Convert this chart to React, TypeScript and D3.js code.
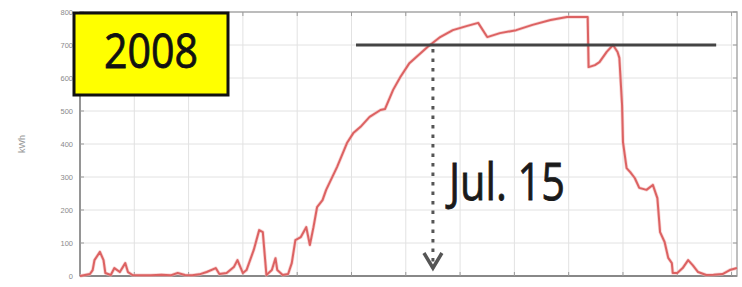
import React from "react";
import * as d3 from "d3";

const days = [0, 5.5, 7, 8, 11, 13, 14, 17, 19, 22, 25, 26.5, 29, 33, 39, 45, 50, 54, 58, 62, 66, 70, 75, 77, 81, 85, 87, 90, 92, 96, 99, 101, 103, 106, 108, 109, 112, 115, 117, 119, 122, 125, 127, 129, 131, 134, 136, 142, 147.5, 151, 155, 160, 166, 168.5, 173, 177, 182, 192, 199, 206, 214, 220, 225, 232, 241, 250, 260, 269, 278, 280.5, 281, 284.5, 287, 291, 294.5, 297, 298, 299.5, 300, 302, 304, 306.5, 309, 313, 316.5, 319, 320.5, 323, 325, 327, 327.5, 330, 333, 336, 338.5, 341.5, 346, 350, 355, 359, 363];
const values = [0, 6, 18, 48, 73, 48, 9, 3, 24, 12, 39, 12, 3, 2, 2, 4, 2, 9, 3, 2, 5, 12, 24, 6, 9, 27, 48, 9, 18, 79, 139, 133, 3, 18, 54, 18, 3, 6, 39, 109, 118, 148, 94, 148, 209, 230, 261, 330, 403, 433, 452, 482, 503, 506, 564, 603, 645, 694, 724, 745, 758, 767, 724, 736, 745, 761, 776, 785, 785, 785, 633, 639, 648, 679, 700, 679, 661, 518, 406, 327, 315, 297, 267, 261, 276, 236, 133, 103, 55, 39, 9, 9, 24, 48, 33, 12, 3, 4, 6, 18, 24];
const yTicks = [0, 100, 200, 300, 400, 500, 600, 700, 800];
const xTicks = [0, 30, 60, 90, 120, 150, 180, 210, 240, 270, 300, 330, 360];
const yearLabel = "2008";
const dateLabel = "Jul. 15";
const markDay = 195;
const thresholdValue = 700;
const thresholdStart = 152.5;
const thresholdEnd = 351.5;
const yAxisTitle = "kWh";

export default function App() {
  const W = 742, H = 287;
  const x = d3.scaleLinear().domain([0, 363]).range([80, 737]);
  const y = d3.scaleLinear().domain([0, 800]).range([276, 12]);
  const pts: [number, number][] = days.map((d, i) => [d, values[i]]);
  const line = d3.line<[number, number]>().x(p => x(p[0])).y(p => y(p[1]));
  const ax = x(markDay);
  return (
    <svg width={W} height={H} style={{ position: "absolute", left: 0, top: 0, background: "#fff" }}>
      {yTicks.map(t => (
        <line key={"h" + t} x1={x(0)} x2={x(363)} y1={y(t)} y2={y(t)} stroke="#e2e2e2" strokeWidth={1} />
      ))}
      {xTicks.map(t => (
        <line key={"v" + t} x1={x(t)} x2={x(t)} y1={y(800)} y2={y(0)} stroke="#e2e2e2" strokeWidth={1} />
      ))}
      <rect x={x(0)} y={y(800)} width={x(363) - x(0)} height={y(0) - y(800)} fill="none" stroke="#aaa" strokeWidth={1.5} />
      <line x1={x(0)} x2={x(363)} y1={y(0)} y2={y(0)} stroke="#888" strokeWidth={2} />
      <line x1={x(0)} x2={x(0)} y1={y(0)} y2={y(800)} stroke="#888" strokeWidth={1.5} />
      {yTicks.map(t => (
        <g key={"yt" + t}>
          <line x1={x(0)} x2={x(0) + 4} y1={y(t)} y2={y(t)} stroke="#999" />
          <line x1={x(363) - 4} x2={x(363)} y1={y(t)} y2={y(t)} stroke="#999" />
          <text x={73} y={y(t) + 3} textAnchor="end" fontSize={7.5} fill="#8a8a8a" fontFamily="Liberation Sans, Arial, sans-serif">{t}</text>
        </g>
      ))}
      {xTicks.map(t => (
        <g key={"xt" + t}>
          <line x1={x(t)} x2={x(t)} y1={y(800)} y2={y(800) + 4} stroke="#999" />
          <line x1={x(t)} x2={x(t)} y1={y(0) - 4} y2={y(0)} stroke="#999" />
        </g>
      ))}
      <text transform={`translate(25,${(y(0) + y(800)) / 2}) rotate(-90)`} textAnchor="middle" fontSize={9} fill="#999" fontFamily="Liberation Sans, Arial, sans-serif">{yAxisTitle}</text>
      <path d={line(pts) || ""} fill="none" stroke="#f4b8b8" strokeWidth={3.5} strokeLinejoin="round" opacity={0.6} />
      <path d={line(pts) || ""} fill="none" stroke="#dc6262" strokeWidth={2} strokeLinejoin="round" />
      <line x1={x(thresholdStart)} x2={x(thresholdEnd)} y1={y(thresholdValue)} y2={y(thresholdValue)} stroke="#444" strokeWidth={3} />
      <line x1={ax} x2={ax} y1={y(thresholdValue) + 4} y2={y(0) - 9} stroke="#555" strokeWidth={3} strokeDasharray="3.5 6" />
      <polyline points={`${ax - 9},${y(0) - 23} ${ax},${y(0) - 8} ${ax + 9},${y(0) - 23}`} fill="none" stroke="#555" strokeWidth={3.5} />
      <text x={449} y={200} fontSize={52} fill="#1a1a1a" stroke="#1a1a1a" strokeWidth={0.8} textLength={116} lengthAdjust="spacingAndGlyphs" fontFamily="Open Sans, Liberation Sans, sans-serif">{dateLabel}</text>
      <rect x={74} y={13} width={154} height={82} fill="#ffff00" stroke="#111" strokeWidth={3} />
      <text x={104} y={68} fontSize={48} fill="#111" stroke="#111" strokeWidth={0.8} textLength={94} lengthAdjust="spacingAndGlyphs" fontFamily="Open Sans, Liberation Sans, sans-serif">{yearLabel}</text>
    </svg>
  );
}
